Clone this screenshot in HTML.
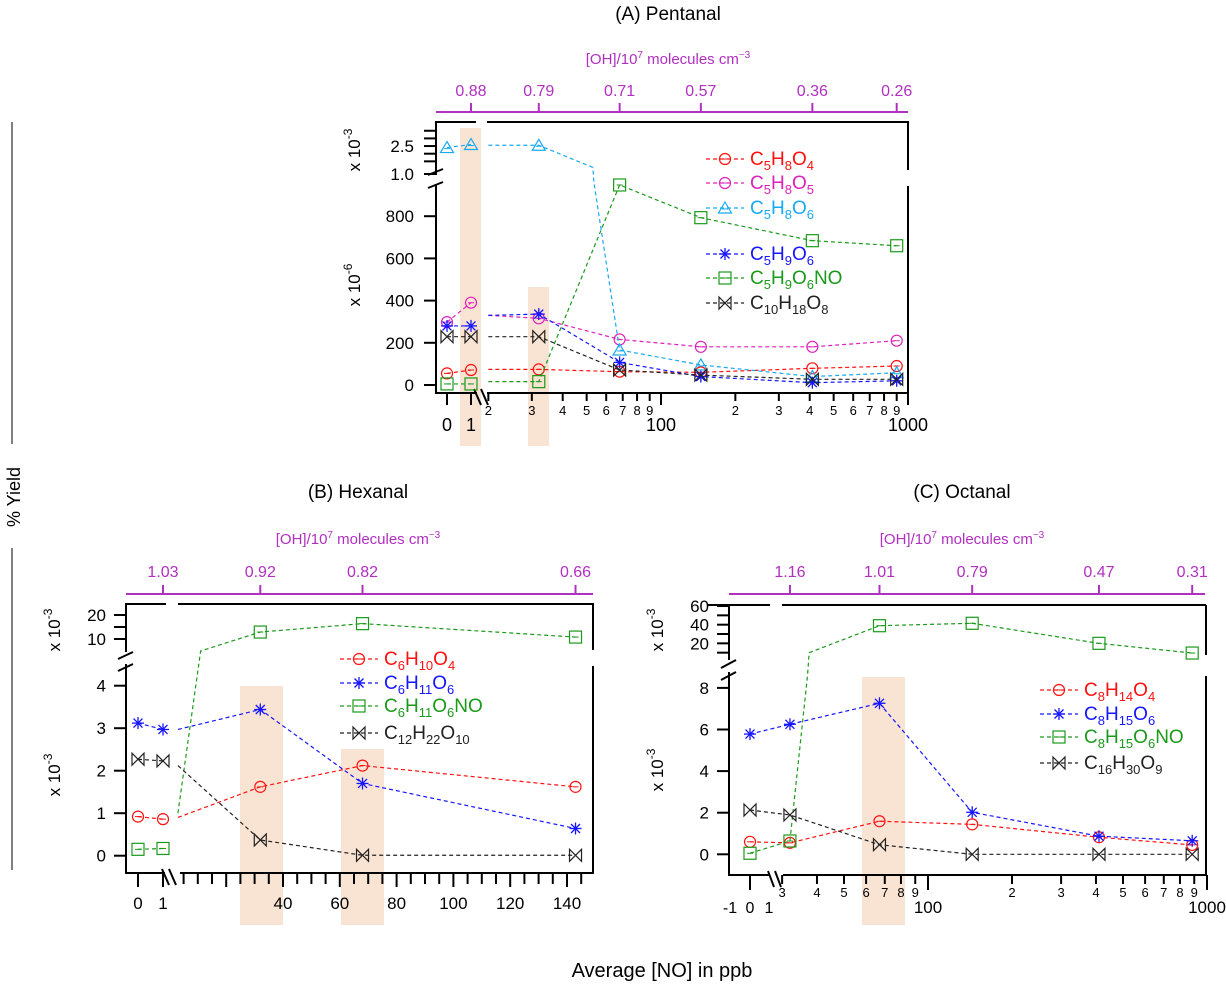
<!DOCTYPE html>
<html><head><meta charset="utf-8"><style>
html,body{margin:0;padding:0;background:#fff;}
svg{display:block;font-family:"Liberation Sans",Arial,sans-serif;}
</style></head><body>
<svg id="fig" width="1226" height="986" viewBox="0 0 1226 986" xmlns="http://www.w3.org/2000/svg"></svg>
<script>
// ---------- DATA ----------
// Panel A (Pentanal), values in x10^-6 (upper segment values > 1000 are x10^-6 too)
const aNO = [0, 1, 32, 68, 145, 410, 900];
const aOH = ["0.88","0.79","0.71","0.57","0.36","0.26"];
const aC5H8O4 = [55, 71, 74, 63, 60, 79, 90];
const aC5H8O5 = [298, 390, 316, 216, 181, 181, 210];
const aC5H8O6 = [2400, 2600, 2550, 166, 95, 40, 58];
const aC5H9O6 = [280, 280, 336, 107, 40, 11, 20];
const aC5H9O6NO = [5, 5, 16, 948, 793, 684, 660];
const aC10H18O8 = [229, 229, 229, 71, 47, 27, 27];
const aBridgeNO = 20;
// Panel B (Hexanal), values in x10^-3
const bNO = [0, 1, 32, 68, 143];
const bOH = ["1.03","0.92","0.82","0.66"];
const bC6H10O4 = [0.92, 0.86, 1.62, 2.12, 1.62];
const bC6H11O6 = [3.12, 2.97, 3.44, 1.70, 0.64];
const bC6H11O6NO = [0.15, 0.17, 12.9, 16.4, 10.8];
const bC12H22O10 = [2.27, 2.23, 0.37, 0.01, 0.01];
// Panel C (Octanal), values in x10^-3
const cNO = [0, 32, 67, 144, 410, 885];
const cOH = ["1.16","1.01","0.79","0.47","0.31"];
const cC8H14O4 = [0.6, 0.55, 1.59, 1.44, 0.82, 0.45];
const cC8H15O6 = [5.78, 6.25, 7.26, 2.02, 0.87, 0.65];
const cC8H15O6NO = [0.05, 0.64, 38.9, 41.5, 20, 9.6];
const cC16H30O9 = [2.13, 1.89, 0.46, 0, 0, 0];

const NS="http://www.w3.org/2000/svg";
const svg=document.getElementById('fig');
function el(tag,attrs,parent){const e=document.createElementNS(NS,tag);for(const k in attrs)e.setAttribute(k,attrs[k]);(parent||svg).appendChild(e);return e;}
function line(x1,y1,x2,y2,stroke,w,p){return el('line',{x1,y1,x2,y2,stroke:stroke||'#000','stroke-width':w||2},p);}
function text(x,y,s,size,fill,anchor,p){const t=el('text',{x,y,'font-size':size,fill:fill||'#000','text-anchor':anchor||'middle'},p);t.textContent=s;return t;}
function formula(x,y,s,color,p){
  const t=el('text',{x,y,'font-size':19,fill:color},p);
  const parts=s.match(/[A-Za-z]+|\d+/g);
  let sub=false;
  parts.forEach(pt=>{
    const isNum=/\d/.test(pt);
    const ts=el('tspan',{},t);
    if(isNum){ts.setAttribute('font-size',13);ts.setAttribute('dy',sub?0:5);sub=true;}
    else{ts.setAttribute('dy',sub?-5:0);sub=false;}
    ts.textContent=pt;
  });
  return t;
}
function marker(g,type,x,y,c){
  if(type==='circle'){el('circle',{cx:x,cy:y,r:5.5,fill:'none',stroke:c,'stroke-width':1.2},g);line(x-3,y,x+3,y,c,1,g);}
  else if(type==='square'){el('rect',{x:x-6,y:y-6,width:12,height:12,fill:'none',stroke:c,'stroke-width':1.2},g);line(x-3,y,x+3,y,c,1,g);}
  else if(type==='triangle'){el('polygon',{points:`${x},${y-6} ${x-6.5},${y+5} ${x+6.5},${y+5}`,fill:'none',stroke:c,'stroke-width':1.2},g);line(x-3,y+1,x+3,y+1,c,1,g);}
  else if(type==='star'){line(x-6,y,x+6,y,c,1.3,g);line(x,y-6,x,y+6,c,1.3,g);line(x-4.5,y-4.5,x+4.5,y+4.5,c,1.3,g);line(x-4.5,y+4.5,x+4.5,y-4.5,c,1.3,g);}
  else if(type==='bowtie'){el('polygon',{points:`${x-6},${y-6} ${x+6},${y+6} ${x+6},${y-6} ${x-6},${y+6}`,fill:'none',stroke:c,'stroke-width':1.2},g);}
}
function drawSeries(P,s){
  const g=el('g',{});
  
  
  const groups=[[]];
  P.xs.forEach((xv,i)=>{
    groups[groups.length-1].push([P.xmap(xv),P.ymap(s.vals[i])]);
    if(i===P.gapAfter)groups.push([]);
    if(s.bridge&&i===s.bridgeAfter)s.bridge.forEach(b=>groups[groups.length-1].push([P.xmap(b[0]),P.ymap(b[1])]));
    if(s.bridge2&&i===s.bridge2After)s.bridge2.forEach(b=>groups[groups.length-1].push([P.xmap(b[0]),P.ymap(b[1])]));
  });
  groups.forEach(gr=>{if(gr.length>1)el('polyline',{points:gr.map(p=>p.join(',')).join(' '),fill:'none',stroke:s.color,'stroke-width':1.2,'stroke-dasharray':'4,3'},g);});
  P.xs.forEach((xv,i)=>marker(g,s.marker,P.xmap(xv),P.ymap(s.vals[i]),s.color));
}
function legend(P,x,ys){
  P.series.forEach((s,i)=>{
    const g=el('g',{});
    
    
    line(x,ys[i],x+38,ys[i],s.color,1.2,g).setAttribute('stroke-dasharray','4,3');
    marker(g,s.marker,x+19,ys[i],s.color);
    formula(x+44,ys[i]+6,s.name,s.color,g);
  });
}
function band(x1,x2,y1,y2,name){const r=el('rect',{x:x1,y:y1,width:x2-x1,height:y2-y1,fill:'#f9e3d3'});}
function ylab(x,y,exp){
  const t=el('text',{x:0,y:0,'font-size':17,fill:'#000','text-anchor':'middle',transform:`translate(${x},${y}) rotate(-90)`});
  
  const a=el('tspan',{},t);a.textContent='x 10';
  const b=el('tspan',{'font-size':12,dy:-8},t);b.textContent=exp;
}
function ohTitle(x,y){
  const t=el('text',{x,y,'font-size':15,fill:'#b030c0','text-anchor':'middle'});
  
  const a=el('tspan',{},t);a.textContent='[OH]/10';
  const b=el('tspan',{'font-size':10,dy:-6},t);b.textContent='7';
  const c=el('tspan',{dy:6},t);c.textContent=' molecules cm';
  const d=el('tspan',{'font-size':10,dy:-6},t);d.textContent='\u22123';
}
const PUR='#b030c0';
function log10(v){return Math.log(v)/Math.LN10;}

// ---------- PANEL A ----------
const PA={xs:aNO,gapAfter:1,
  xmap:v=>v===0?447:(v===1?471:661+247*log10(v/100)),
  ymap:v=>v>1000?169-(v/1000-1.0)*15.3:385-v*0.211,
  series:[
  {name:'C5H8O4',color:'#ff1010',marker:'circle',vals:aC5H8O4,bridge:[[aBridgeNO,aC5H8O4[2]]],bridgeAfter:1},
  {name:'C5H8O5',color:'#dd22bb',marker:'circle',vals:aC5H8O5,bridge:[[aBridgeNO,aC5H8O5[2]+14]],bridgeAfter:1},
  {name:'C5H8O6',color:'#18aaf0',marker:'triangle',vals:aC5H8O6,bridge:[[aBridgeNO,aC5H8O6[2]]],bridgeAfter:1,bridge2:[[53,1100],[53.5,960]],bridge2After:2},
  {name:'C5H9O6',color:'#1515ff',marker:'star',vals:aC5H9O6,bridge:[[aBridgeNO,330]],bridgeAfter:1},
  {name:'C5H9O6NO',color:'#1a9a1a',marker:'square',vals:aC5H9O6NO,bridge:[[aBridgeNO,aC5H9O6NO[2]]],bridgeAfter:1},
  {name:'C10H18O8',color:'#222',marker:'bowtie',vals:aC10H18O8,bridge:[[aBridgeNO,aC10H18O8[2]]],bridgeAfter:1}]};
band(460,481,128,446,'highlight-band-a1');band(528,549,287,446,'highlight-band-a2');
text(668,20,'(A) Pentanal',19);
ohTitle(668,64);
line(436,112,908,112,PUR,2);
PA.xs.slice(1).forEach((v,i)=>{line(PA.xmap(v),103,PA.xmap(v),112,PUR,2);text(PA.xmap(v),96,aOH[i],16,PUR);});
// frame
line(436,122,436,175);line(436,184,436,394);line(428,175,443,169,'#000',2);line(428,188,443,182,'#000',2);
line(435,122,476,122);line(487,122,909,122);line(908,122,908,170);line(908,186,908,394);
line(435,393,477,393);line(487,393,909,393);line(474,389,481,405,'#000',2);line(481,389,488,405,'#000',2);
[1,1.5,2,2.5,3,3.5].forEach(v=>line(424,PA.ymap(v*1000),436,PA.ymap(v*1000)));
[0,200,400,600,800].forEach(v=>{line(424,PA.ymap(v),436,PA.ymap(v));text(414,PA.ymap(v)+6,String(v),17,'#000','end');});
text(414,PA.ymap(2500)+6,'2.5',17,'#000','end');text(414,PA.ymap(1000)+6,'1.0',17,'#000','end');
ylab(360,150,'-3');ylab(360,285,'-6');
[0,1].forEach(v=>{line(PA.xmap(v),393,PA.xmap(v),405);text(PA.xmap(v),431,String(v),18);});
[20,30,40,50,60,70,80,90,200,300,400,500,600,700,800,900].forEach(v=>{const x=PA.xmap(v);line(x,393,x,401);text(x,415,String(String(v)[0]),13);});
[100,1000].forEach(v=>{const x=PA.xmap(v);line(x,393,x,405);text(x,431,String(v),18);});
PA.series.forEach(s=>drawSeries(PA,s));
legend(PA,706,[159,183,208,254,278,303]);

// ---------- PANEL B ----------
const PB={xs:bNO,gapAfter:1,
  xmap:v=>v===0?138:(v===1?163:169.4+2.84*v),
  ymap:v=>v>=5?639-(v-10)*2.4:855.7-v*42.5,
  series:[
  {name:'C6H10O4',color:'#ff1010',marker:'circle',vals:bC6H10O4,bridge:[[3,0.9]],bridgeAfter:1},
  {name:'C6H11O6',color:'#1515ff',marker:'star',vals:bC6H11O6,bridge:[[3,2.97]],bridgeAfter:1},
  {name:'C6H11O6NO',color:'#1a9a1a',marker:'square',vals:bC6H11O6NO,bridge:[[3,1.0],[11,5]],bridgeAfter:1},
  {name:'C12H22O10',color:'#222',marker:'bowtie',vals:bC12H22O10,bridge:[[3,2.12]],bridgeAfter:1}]};
band(240,283,686,925,'highlight-band-b1');band(341,384,749,925,'highlight-band-b2');
text(358,498,'(B) Hexanal',19);
ohTitle(358,544);
line(126,594,593,594,PUR,2);
PB.xs.slice(1).forEach((v,i)=>{line(PB.xmap(v),585,PB.xmap(v),594,PUR,2);text(PB.xmap(v),577,bOH[i],16,PUR);});
line(126,604,126,652);line(126,664,126,874);line(118,659,133,652,'#000',2);line(118,671,133,664,'#000',2);
line(125,604,166,604);line(178,604,594,604);line(593,604,593,650);line(593,666,593,874);
line(125,873,165,873);line(180,873,594,873);line(162,869,169,885,'#000',2);line(169,869,176,885,'#000',2);
[10,15,20].forEach(v=>line(114,PB.ymap(v),126,PB.ymap(v)));
[10,20].forEach(v=>text(106,PB.ymap(v)+6,String(v),17,'#000','end'));
[0,1,2,3,4].forEach(v=>{line(114,PB.ymap(v),126,PB.ymap(v));text(106,PB.ymap(v)+6,String(v),17,'#000','end');});
ylab(60,630,'-3');ylab(60,775,'-3');
[0,1].forEach(v=>{line(PB.xmap(v),873,PB.xmap(v),887);text(PB.xmap(v),909,String(v),17);});
for(let v=5;v<=145;v+=5){const x=PB.xmap(v);line(x,873,x,v%20===0?887:884);}
[40,60,80,100,120,140].forEach(v=>text(PB.xmap(v),909,String(v),17));
PB.series.forEach(s=>drawSeries(PB,s));
legend(PB,340,[659,683,706,733]);

// ---------- PANEL C ----------
const PC={xs:cNO,gapAfter:-1,
  xmap:v=>v===0?750:928+279*log10(v/100),
  ymap:v=>v>=9?662-v*0.933:854.3-v*20.8,
  series:[
  {name:'C8H14O4',color:'#ff1010',marker:'circle',vals:cC8H14O4},
  {name:'C8H15O6',color:'#1515ff',marker:'star',vals:cC8H15O6},
  {name:'C8H15O6NO',color:'#1a9a1a',marker:'square',vals:cC8H15O6NO,bridge:[[37,8.6],[37.5,10]],bridgeAfter:1},
  {name:'C16H30O9',color:'#222',marker:'bowtie',vals:cC16H30O9}]};
band(862,905,677,925,'highlight-band-c1');
text(962,498,'(C) Octanal',19);
ohTitle(962,544);
line(729,594,1205,594,PUR,2);
PC.xs.slice(1).forEach((v,i)=>{line(PC.xmap(v),585,PC.xmap(v),594,PUR,2);text(PC.xmap(v),577,cOH[i],16,PUR);});
line(729,605,729,660);line(729,672,729,876);line(721,668,736,660,'#000',2);line(721,680,736,672,'#000',2);
line(707,605,770,605);line(782,605,1206,605);line(1206,605,1206,655);line(1206,676,1206,876);
line(728,875,770,875);line(783,875,1206,875);line(768,871,774,887,'#000',2);line(775,871,781,887,'#000',2);
[10,20,30,40,50,60].forEach(v=>line(717,PC.ymap(v),729,PC.ymap(v)));
[20,40,60].forEach(v=>text(709,PC.ymap(v)+6,String(v),17,'#000','end'));
[0,2,4,6,8].forEach(v=>{line(717,PC.ymap(v),729,PC.ymap(v));text(709,PC.ymap(v)+6,String(v),17,'#000','end');});
ylab(663,630,'-3');ylab(663,770,'-3');
line(750,875,750,890);
[['-1',730],['0',750],['1',769]].forEach(a=>text(a[1],913,a[0],16));
[30,40,50,60,70,80,90,200,300,400,500,600,700,800,900].forEach(v=>{const x=PC.xmap(v);line(x,875,x,884);text(x,897,String(v)[0],13);});
[100,1000].forEach(v=>{const x=PC.xmap(v);line(x,875,x,890);text(x,913,String(v),17);});
PC.series.forEach(s=>drawSeries(PC,s));
legend(PC,1040,[690,714,737,763]);

// ---------- Shared labels ----------
line(12,122,12,444,'#000',1);line(12,548,12,870,'#000',1);
const yl=el('text',{x:0,y:0,'font-size':18,'text-anchor':'middle',transform:'translate(20,497) rotate(-90)'});
yl.textContent='% Yield';
const xl=text(662,977,'Average [NO] in ppb',20);
</script>
</body></html>
